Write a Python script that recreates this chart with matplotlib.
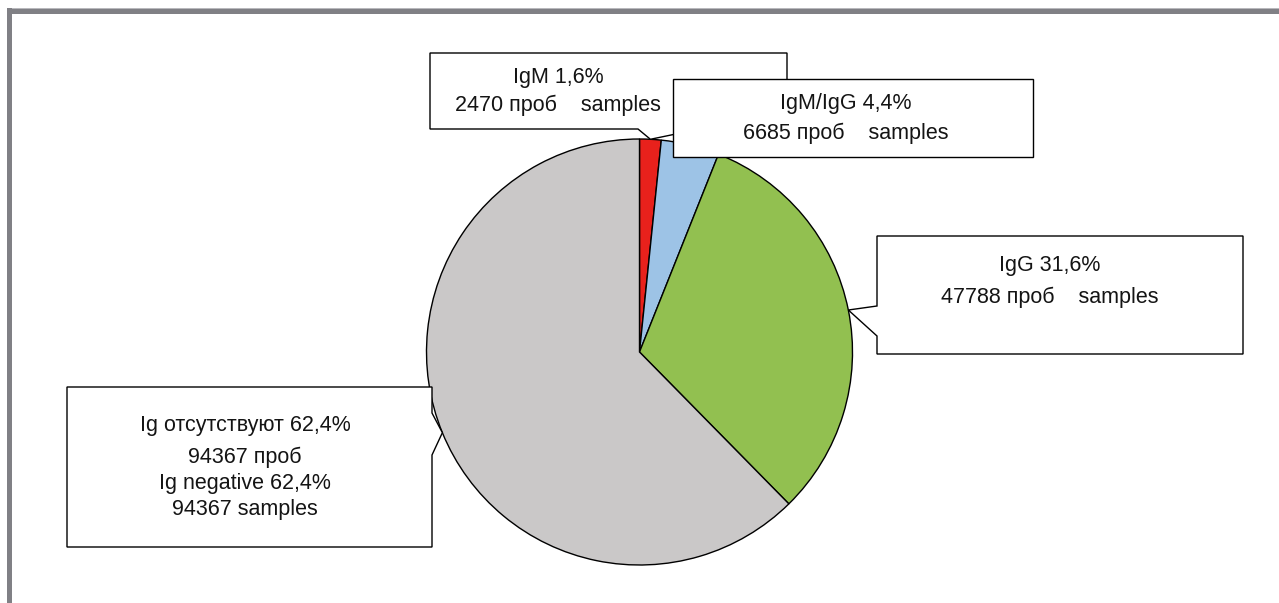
"""Pie chart of antibody test results with callout labels."""

import matplotlib

matplotlib.use("Agg")
import matplotlib.pyplot as plt
import numpy as np
from matplotlib.patches import Polygon, Rectangle

plt.rcParams["font.family"] = ["Liberation Sans", "DejaVu Sans"]

# antibody groups, clockwise from 12 o'clock
groups = ["IgM", "IgM/IgG", "IgG", "Ig negative"]
samples = [2470, 6685, 47788, 94367]
percents = [1.6, 4.4, 31.6, 62.4]
colors = ["#e8211c", "#9dc3e6", "#92c050", "#cac8c8"]

label_lines = [
    ["IgM 1,6%", "2470 проб    samples"],
    ["IgM/IgG 4,4%", "6685 проб    samples"],
    ["IgG 31,6%", "47788 проб    samples"],
    ["Ig отсутствуют 62,4%", "94367 проб", "Ig negative 62,4%", "94367 samples"],
]

W, H = 1279, 603
CX, CY, R = 639.5, 352, 213

fig = plt.figure(figsize=(W / 100, H / 100), dpi=100)
fig.patch.set_facecolor("white")

# pie axes, placed in pixel terms
ax = fig.add_axes([(CX - R) / W, (H - CY - R) / H, 2 * R / W, 2 * R / H])
wedges, _ = ax.pie(samples, colors=colors, startangle=90, counterclock=False,
                   radius=1.0, wedgeprops=dict(edgecolor="black", linewidth=1.0))
ax.set_xlim(-1, 1)
ax.set_ylim(-1, 1)
ax.set_aspect("equal")
ax.axis("off")

# overlay in pixel coords (y down) for frame and callouts
ov = fig.add_axes([0, 0, 1, 1], zorder=3)
ov.set_xlim(0, W)
ov.set_ylim(H, 0)
ov.axis("off")
ov.patch.set_alpha(0)

# grey frame on top and left
ov.add_patch(Rectangle((7, 8), W - 7, 6, facecolor="#808085", edgecolor="none"))
ov.add_patch(Rectangle((7, 8), W - 7, 1.2, facecolor="#b8b8bc", edgecolor="none"))
ov.add_patch(Rectangle((7, 8), 5, H - 8, facecolor="#808085", edgecolor="none"))


def tip_of(w):
    ang = np.deg2rad((w.theta1 + w.theta2) / 2)
    return CX + R * np.cos(ang), CY - R * np.sin(ang)


def callout(box, side, span, tip):
    x0, y0, x1, y1 = box
    if side == "left":
        a, b = span
        pts = [(x0, y0), (x1, y0), (x1, y1), (x0, y1), (x0, b), tip, (x0, a)]
    elif side == "right":
        a, b = span
        pts = [(x0, y0), (x1, y0), (x1, a), tip, (x1, b), (x1, y1), (x0, y1)]
    elif side == "bottom":
        a, b = span
        pts = [(x0, y0), (x1, y0), (x1, y1), (b, y1), tip, (a, y1), (x0, y1)]
    else:
        pts = [(x0, y0), (x1, y0), (x1, y1), (x0, y1)]
    ov.add_patch(Polygon(pts, closed=True, facecolor="white",
                         edgecolor="black", linewidth=1.0))


# callout boxes: (x0, y0, x1, y1), pointer side, pointer span
boxes = [
    ((430, 53, 787, 129), "bottom", (638, 700)),
    ((673, 79, 1033, 157), None, None),
    ((877, 236, 1243, 354), "left", (306, 336)),
    ((67, 387, 432, 547), "right", (413, 455)),
]
text_x = [558, 846, 1050, 245]
text_y = [
    [77, 105],
    [104, 133],
    [265, 297],
    [426, 457, 484, 510],
]

for w, (box, side, span), lines, tx, ys in zip(wedges, boxes, label_lines, text_x, text_y):
    callout(box, side, span, tip_of(w))
    for line, ty in zip(lines, ys):
        ov.text(tx, ty, line, ha="center", va="center", fontsize=15.5, color="#141414")

fig.savefig("out.png", dpi=100)
